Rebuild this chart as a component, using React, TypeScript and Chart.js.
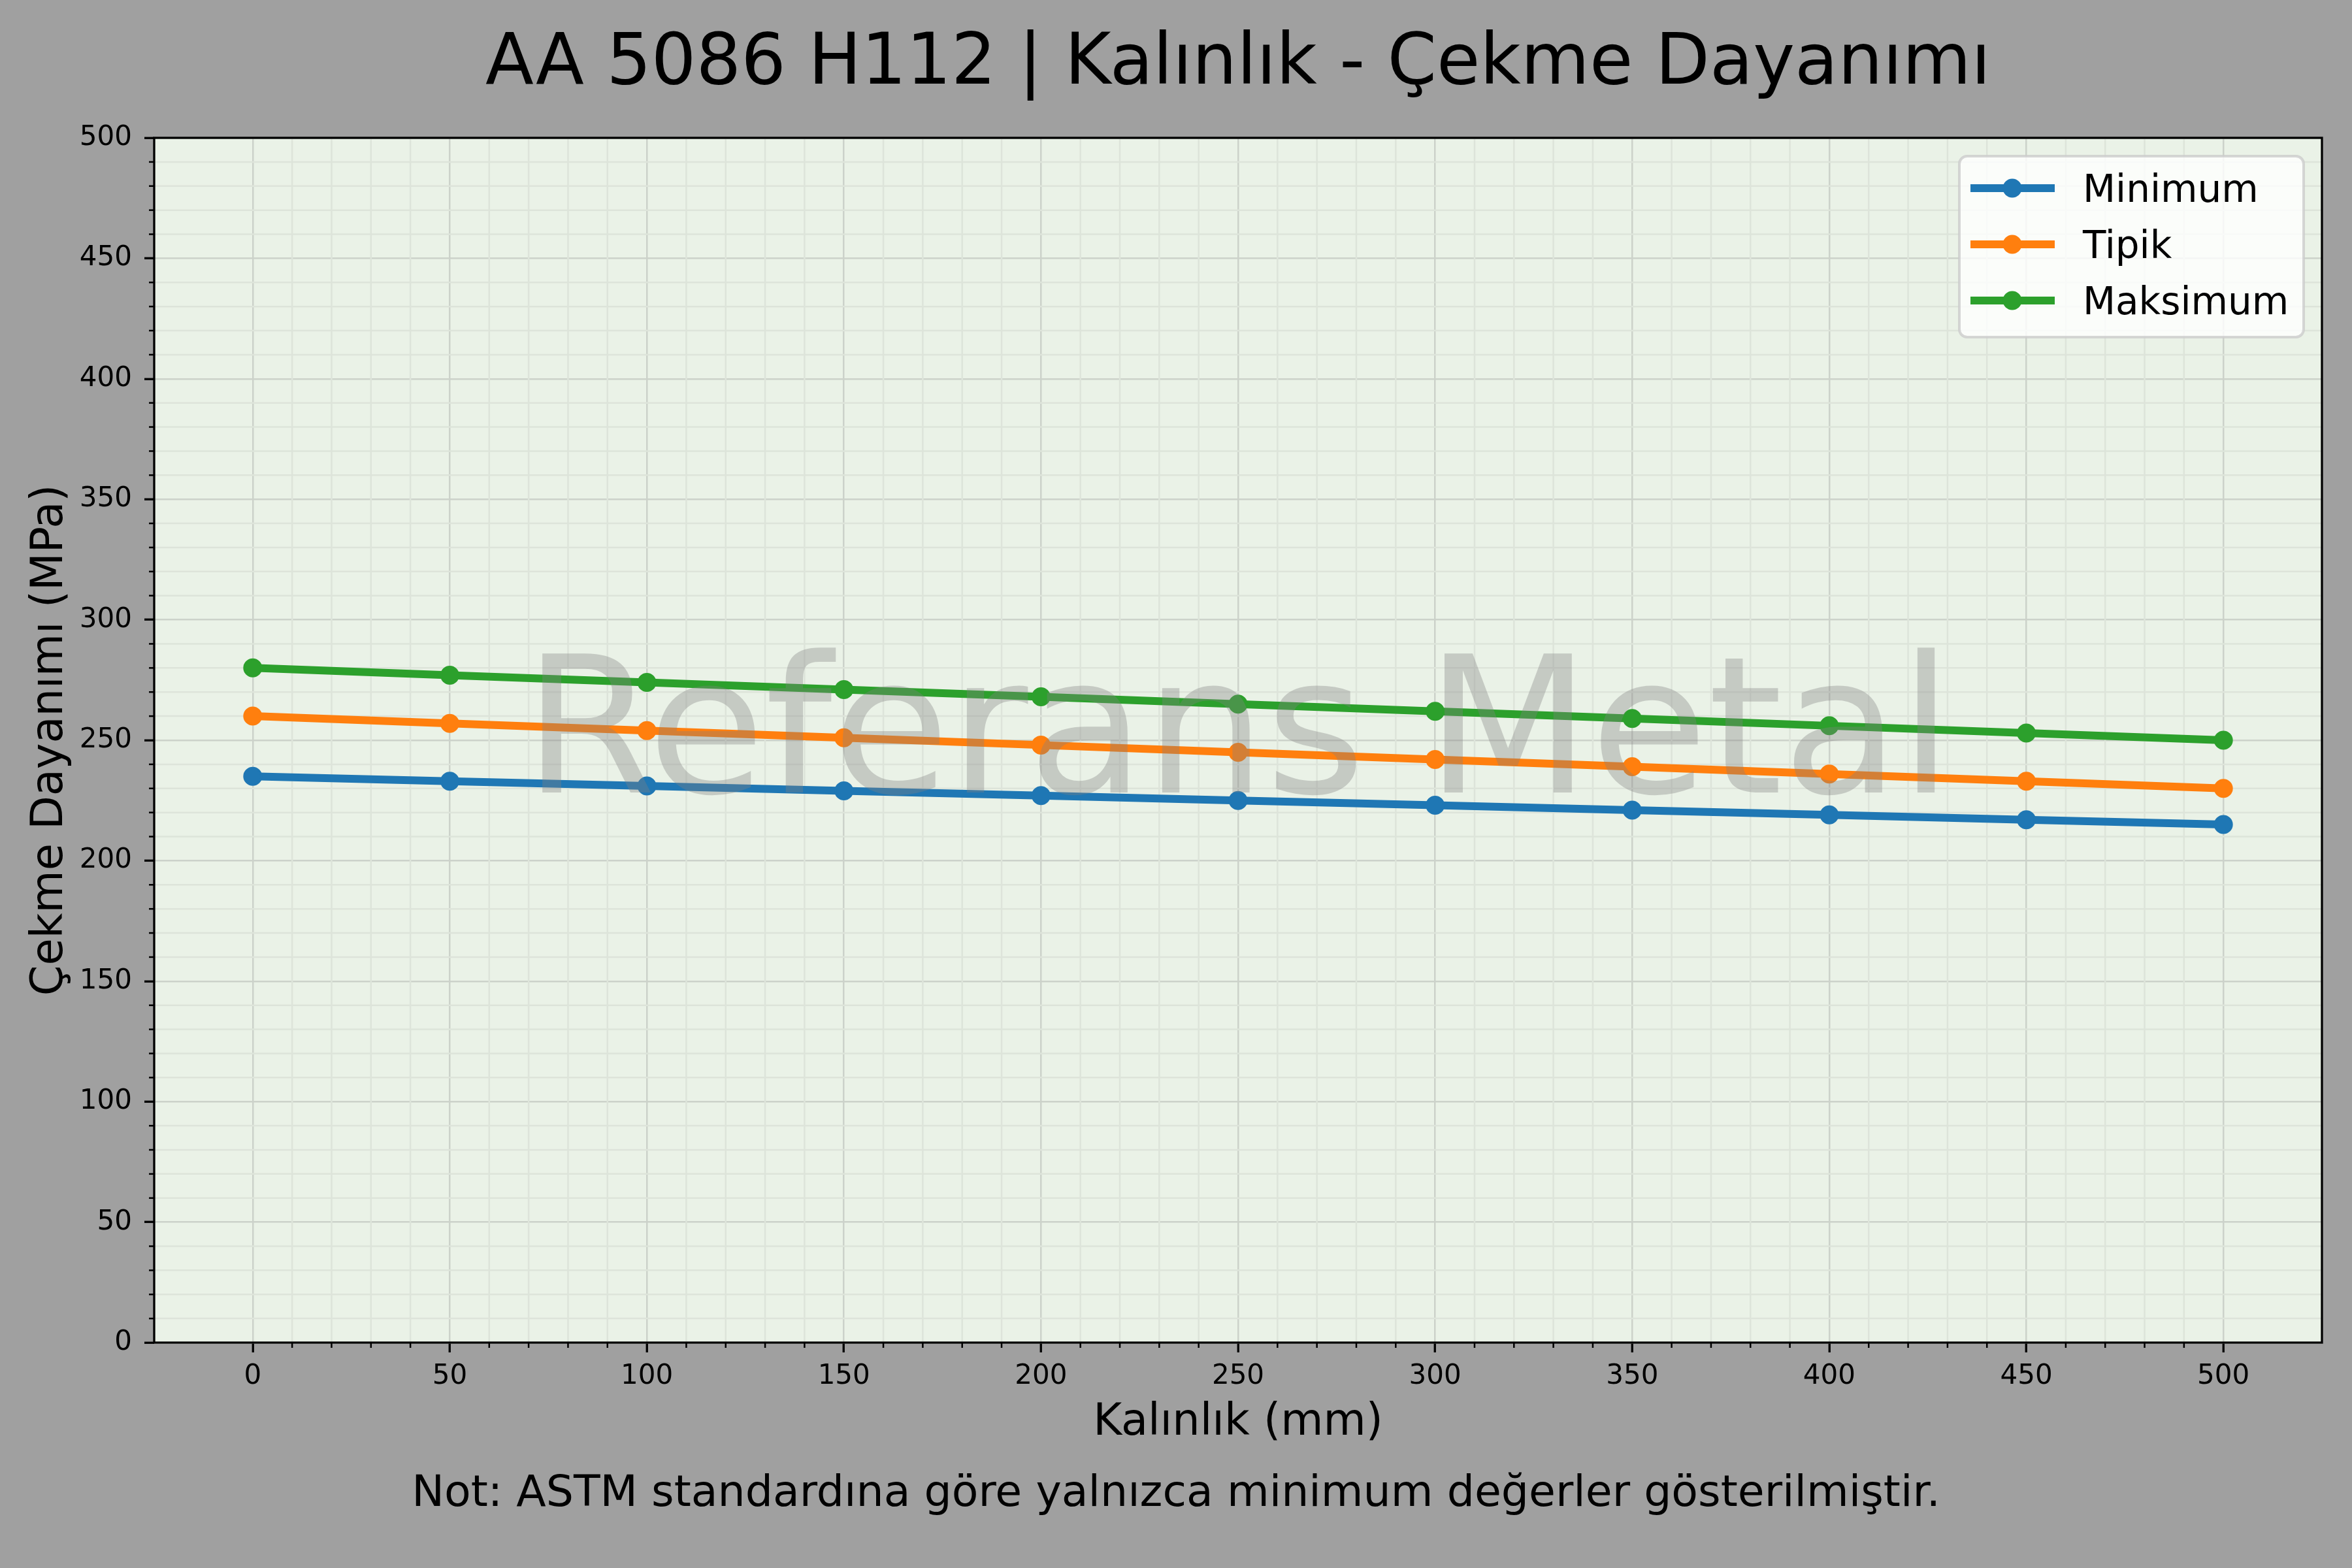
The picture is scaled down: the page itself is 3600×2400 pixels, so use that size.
import React, { useEffect, useRef } from 'react';
import Chart from 'chart.js/auto';

// values
const thickness = [0, 50, 100, 150, 200, 250, 300, 350, 400, 450, 500];
const minimum = [235, 233, 231, 229, 227, 225, 223, 221, 219, 217, 215];
const tipik = [260, 257, 254, 251, 248, 245, 242, 239, 236, 233, 230];
const maksimum = [280, 277, 274, 271, 268, 265, 262, 259, 256, 253, 250];
const seriesLabels = ['Minimum', 'Tipik', 'Maksimum'];
const seriesColors = ['#1f77b4', '#ff7f0e', '#2ca02c'];
const xTicks = [0, 50, 100, 150, 200, 250, 300, 350, 400, 450, 500];
const yTicks = [0, 50, 100, 150, 200, 250, 300, 350, 400, 450, 500];
const minorStep = 10;

const FONT = "'DejaVu Sans', sans-serif";
const W = 3600;
const H = 2400;
const FIG_BG = '#a0a0a0';
const AX_BG = '#eaf2e7';
const MAJOR_GRID = '#ccd2ca';
const MINOR_GRID = '#dde4da';

const minorsBetween = (ticks: number[]) => {
    const out: number[] = [];
    for (let i = 0; i < ticks.length - 1; i++) {
        for (let v = ticks[i] + minorStep; v < ticks[i + 1] - 1e-9; v += minorStep) out.push(v);
    }
    return out;
};

const decorations = {
    id: 'decorations',
    beforeDraw(chart: any) {
        const { ctx, chartArea: a } = chart;
        ctx.save();
        ctx.fillStyle = FIG_BG;
        ctx.fillRect(0, 0, chart.width, chart.height);
        ctx.fillStyle = AX_BG;
        ctx.fillRect(a.left, a.top, a.right - a.left, a.bottom - a.top);
        ctx.restore();
    },
    beforeDatasetsDraw(chart: any) {
        const { ctx, chartArea: a, scales } = chart;
        ctx.save();
        // minor grid + minor ticks
        for (const v of minorsBetween(xTicks)) {
            const x = scales.x.getPixelForValue(v);
            ctx.lineWidth = 2.5;
            ctx.strokeStyle = MINOR_GRID;
            ctx.beginPath(); ctx.moveTo(x, a.top); ctx.lineTo(x, a.bottom); ctx.stroke();
            ctx.strokeStyle = '#000';
            ctx.beginPath(); ctx.moveTo(x, a.bottom); ctx.lineTo(x, a.bottom + 8); ctx.stroke();
        }
        for (const v of minorsBetween(yTicks)) {
            const y = scales.y.getPixelForValue(v);
            ctx.lineWidth = 2.5;
            ctx.strokeStyle = MINOR_GRID;
            ctx.beginPath(); ctx.moveTo(a.left, y); ctx.lineTo(a.right, y); ctx.stroke();
            ctx.strokeStyle = '#000';
            ctx.beginPath(); ctx.moveTo(a.left, y); ctx.lineTo(a.left - 8, y); ctx.stroke();
        }
        ctx.restore();
    },
    afterDatasetsDraw(chart: any) {
        const { ctx, chartArea: a } = chart;
        const cx = (a.left + a.right) / 2;
        ctx.save();
        // watermark
        ctx.fillStyle = 'rgba(128,128,128,0.35)';
        ctx.font = `292px ${FONT}`;
        ctx.textAlign = 'center';
        ctx.textBaseline = 'alphabetic';
        ctx.fillText('Referans Metal', cx, 1213);

        // legend box
        const bx = 2999, by = 239, bw = 527, bh = 277, r = 12;
        ctx.beginPath();
        ctx.roundRect(bx, by, bw, bh, r);
        ctx.fillStyle = 'rgba(255,255,255,0.8)';
        ctx.fill();
        ctx.lineWidth = 4;
        ctx.strokeStyle = 'rgba(204,204,204,0.8)';
        ctx.stroke();
        chart.data.datasets.forEach((ds: any, i: number) => {
            const y = 288 + i * 86;
            ctx.strokeStyle = ds.borderColor;
            ctx.lineWidth = 12;
            ctx.beginPath(); ctx.moveTo(3016, y); ctx.lineTo(3145, y); ctx.stroke();
            ctx.fillStyle = ds.borderColor;
            ctx.beginPath(); ctx.arc(3080, y, 14.5, 0, Math.PI * 2); ctx.fill();
            ctx.fillStyle = '#000';
            ctx.font = `58px ${FONT}`;
            ctx.textAlign = 'left';
            ctx.fillText(ds.label, 3188, y + 21);
        });
        ctx.restore();
    },
    afterDraw(chart: any) {
        const { ctx, chartArea: a } = chart;
        const cx = (a.left + a.right) / 2;
        const cy = (a.top + a.bottom) / 2;
        ctx.save();
        // spines
        ctx.strokeStyle = '#000';
        ctx.lineWidth = 3.3;
        ctx.strokeRect(a.left, a.top, a.right - a.left, a.bottom - a.top);

        ctx.fillStyle = '#000';
        ctx.textAlign = 'center';
        ctx.textBaseline = 'alphabetic';
        ctx.font = `108px ${FONT}`;
        ctx.fillText('AA 5086 H112 | Kalınlık - Çekme Dayanımı', cx, 128);
        ctx.font = `67px ${FONT}`;
        ctx.fillText('Kalınlık (mm)', cx, 2196);
        ctx.font = `66.5px ${FONT}`;
        ctx.fillText('Not: ASTM standardına göre yalnızca minimum değerler gösterilmiştir.', W / 2, 2305);
        ctx.font = `67px ${FONT}`;
        ctx.translate(95, cy);
        ctx.rotate(-Math.PI / 2);
        ctx.fillText('Çekme Dayanımı (MPa)', 0, 0);
        ctx.restore();
    },
};

const App: React.FC = () => {
    const canvasRef = useRef<HTMLCanvasElement>(null);

    useEffect(() => {
        document.body.style.margin = '0';
        document.body.style.background = FIG_BG;
        if (!canvasRef.current) return;

        const series = [minimum, tipik, maksimum];
        const chart = new Chart(canvasRef.current, {
            type: 'line',
            data: {
                datasets: series.map((vals, i) => ({
                    label: seriesLabels[i],
                    data: thickness.map((t, j) => ({ x: t, y: vals[j] })),
                    borderColor: seriesColors[i],
                    backgroundColor: seriesColors[i],
                    pointBackgroundColor: seriesColors[i],
                    pointBorderColor: seriesColors[i],
                    borderWidth: 12,
                    pointRadius: 13,
                    pointBorderWidth: 3,
                    tension: 0,
                    fill: false,
                })),
            },
            options: {
                responsive: false,
                devicePixelRatio: 1,
                animation: false,
                layout: { padding: { left: 0, top: 211, right: 46, bottom: 0 } },
                plugins: {
                    legend: { display: false },
                    tooltip: { enabled: false },
                    title: { display: false },
                },
                scales: {
                    x: {
                        type: 'linear',
                        min: -25,
                        max: 525,
                        afterBuildTicks: (s: any) => { s.ticks = xTicks.map(v => ({ value: v })); },
                        afterFit: (s: any) => { s.height = H - 2055; },
                        grid: { color: MAJOR_GRID, lineWidth: 2.5, tickLength: 15, tickColor: '#000', tickWidth: 3.3 },
                        border: { display: false },
                        ticks: { font: { family: FONT, size: 42 }, color: '#000', padding: 12, maxRotation: 0, autoSkip: false },
                    },
                    y: {
                        type: 'linear',
                        min: 0,
                        max: 500,
                        afterBuildTicks: (s: any) => { s.ticks = yTicks.map(v => ({ value: v })); },
                        afterFit: (s: any) => { s.width = 236; },
                        grid: { color: MAJOR_GRID, lineWidth: 2.5, tickLength: 15, tickColor: '#000', tickWidth: 3.3 },
                        border: { display: false },
                        ticks: { font: { family: FONT, size: 42 }, color: '#000', padding: 19, autoSkip: false },
                    },
                },
            },
            plugins: [decorations],
        });

        return () => {
            chart.destroy();
        };
    }, []);

    return (
        <div style={{ width: W, height: H }}>
            <canvas ref={canvasRef} width={W} height={H}></canvas>
        </div>
    );
};

export default App;
